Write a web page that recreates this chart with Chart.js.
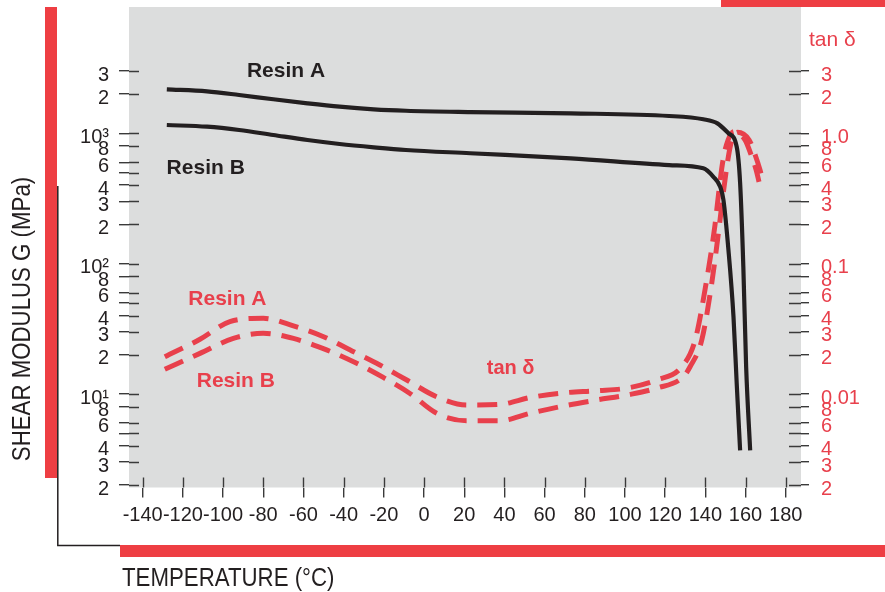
<!DOCTYPE html>
<html>
<head>
<meta charset="utf-8">
<script src="https://cdn.jsdelivr.net/npm/chart.js@4.4.0/dist/chart.umd.min.js"></script>
<style>
html,body{margin:0;padding:0;background:#fff;}
#wrap{width:885px;height:592px;position:relative;}
</style>
</head>
<body>
<div id="wrap"><canvas id="c" width="885" height="592"></canvas></div>
<script>
// ---------- DATA ----------
// Shear modulus G (MPa) vs temperature (°C)
const tempA    = [-128, -108, -92, -75, -58, -42, -25, -9, 23, 73, 122, 139, 146, 151.5, 155.6, 157.3, 158.9, 160.3, 162.3];
const modulusA = [2176, 2099, 1968, 1824, 1698, 1600, 1528, 1490, 1456, 1423, 1358, 1281, 1193, 1000, 789, 416, 95, 16.2, 3.7];
const tempB    = [-128, -108, -92, -75, -58, -42, -25, -9, 23, 73, 122, 139, 144, 147.4, 149, 151.5, 154, 155.6, 157.3];
const modulusB = [1158, 1124, 1060, 970, 888, 828, 781, 745, 703, 643, 571, 539, 464, 389, 308, 127, 39.2, 12.1, 3.7];

// tan delta vs temperature (°C)
const tanTempA  = [-129, -111.5, -96.6, -80, -65, -50, -35, -22, -8.6, 6.3, 21.3, 37.8, 52.8, 69.3, 86, 101, 115.8, 128.3, 134.9, 140.4, 144.8, 146.8, 148.8, 151.3, 154.2, 159.8, 162.8, 165.3, 166.7];
const tanDeltaA = [0.0193, 0.0263, 0.0359, 0.0381, 0.0333, 0.0275, 0.0211, 0.0167, 0.0128, 0.00953, 0.00823, 0.00833, 0.0094, 0.0102, 0.0106, 0.0111, 0.0128, 0.0162, 0.0259, 0.0711, 0.198, 0.367, 0.624, 0.888, 1.03, 0.887, 0.682, 0.523, 0.424];
const tanTempB  = [-129, -111.5, -94.9, -80, -65, -48.5, -33.5, -20.3, -7, 6.3, 21.3, 37.8, 52.8, 69.3, 86, 101, 115.8, 129.1, 132.4, 138.2, 143.2, 147, 148.8, 150.8, 152.8, 156, 161.8, 164.8, 167.2, 168.7];
const tanDeltaB = [0.0155, 0.0205, 0.0267, 0.0292, 0.0267, 0.0218, 0.0172, 0.0134, 0.0101, 0.00711, 0.00624, 0.00624, 0.00711, 0.00809, 0.0090, 0.00982, 0.0111, 0.0136, 0.0162, 0.0259, 0.0711, 0.198, 0.336, 0.571, 0.843, 1.02, 0.889, 0.682, 0.523, 0.424];

// Tick values and labels
const xTickValues = [-140, -120, -100, -80, -60, -40, -20, 0, 20, 40, 60, 80, 100, 120, 140, 160, 180];
const xTickLabels = ['-140', '-120', '-100', '-80', '-60', '-40', '-20', '0', '20', '40', '60', '80', '100', '120', '140', '160', '180'];
const leftTickValues = [2, 3, 4, 5, 6, 8, 10, 20, 30, 40, 50, 60, 80, 100, 200, 300, 400, 500, 600, 800, 1000, 2000, 3000];
const leftTickLabels = ['2', '3', '4', '', '6', '8', '10\u00B9', '2', '3', '4', '', '6', '8', '10\u00B2', '2', '3', '4', '', '6', '8', '10\u00B3', '2', '3'];
const rightTickValues = [0.002, 0.003, 0.004, 0.005, 0.006, 0.008, 0.01, 0.02, 0.03, 0.04, 0.05, 0.06, 0.08, 0.1, 0.2, 0.3, 0.4, 0.5, 0.6, 0.8, 1, 2, 3];
const rightTickLabels = ['2', '3', '4', '', '6', '8', '0.01', '2', '3', '4', '', '6', '8', '0.1', '2', '3', '4', '', '6', '8', '1.0', '2', '3'];

// ---------- STYLE ----------
const BLACK = '#231f20';
const TICK = '#3a3a3a';
const RED = '#e8404c';
const BAR_RED = '#ee3e43';
const GRAY = '#dcdddd';
const FONT = "'Liberation Sans', Arial, Helvetica, sans-serif";

const X_MIN = -146.82, X_MAX = 187.6;
const Y_MIN = 1.918, Y_MAX = 9311;

const toPoints = (xs, ys) => xs.map((x, i) => ({x: x, y: ys[i]}));

const annotations = [
  {text: 'Resin A', x: -68.7, y: 3006, color: BLACK, align: 'center', font: 'bold 21px ' + FONT},
  {text: 'Resin B', x: -128.1, y: 542, color: BLACK, align: 'left', font: 'bold 21px ' + FONT},
  {text: 'Resin A', x: -117.3, y: 53.3, color: RED, align: 'left', font: 'bold 21px ' + FONT},
  {text: 'Resin B', x: -113.1, y: 12.65, color: RED, align: 'left', font: 'bold 21px ' + FONT},
  {text: 'tan \u03B4', x: 31.2, y: 15.7, color: RED, align: 'left', font: 'bold 20px ' + FONT}
];

const decorPlugin = {
  id: 'decor',
  beforeDraw(chart) {
    const ctx = chart.ctx, a = chart.chartArea;
    ctx.save();
    ctx.fillStyle = '#ffffff';
    ctx.fillRect(0, 0, chart.width, chart.height);
    ctx.fillStyle = GRAY;
    ctx.fillRect(a.left, a.top, a.right - a.left, a.bottom - a.top);
    // red frame bars
    ctx.fillStyle = BAR_RED;
    ctx.fillRect(45, 7, 12, 471);
    ctx.fillRect(721, 0, chart.width - 721, 7);
    ctx.fillRect(120, 545, chart.width - 120, 12);
    // black frame lines
    ctx.strokeStyle = BLACK;
    ctx.lineWidth = 1.5;
    ctx.beginPath();
    ctx.moveTo(57.8, 186);
    ctx.lineTo(57.8, 545.5);
    ctx.lineTo(120, 545.5);
    ctx.stroke();
    ctx.restore();
  },
  beforeDatasetsDraw(chart) {
    // inner halves of tick marks (the library draws the outer halves)
    const ctx = chart.ctx, a = chart.chartArea;
    ctx.save();
    ctx.strokeStyle = TICK;
    ctx.lineWidth = 1.4;
    ctx.beginPath();
    chart.scales.y.ticks.forEach(t => {
      const p = Math.round(chart.scales.y.getPixelForValue(t.value)) + 0.5;
      ctx.moveTo(a.left, p); ctx.lineTo(a.left + 10, p);
    });
    chart.scales.y2.ticks.forEach(t => {
      const p = Math.round(chart.scales.y2.getPixelForValue(t.value)) + 0.5;
      ctx.moveTo(a.right - 12, p); ctx.lineTo(a.right, p);
    });
    chart.scales.x.ticks.forEach(t => {
      const p = Math.round(chart.scales.x.getPixelForValue(t.value)) + 0.5;
      ctx.moveTo(p, a.bottom - 10); ctx.lineTo(p, a.bottom);
    });
    ctx.stroke();
    ctx.restore();
  },
  afterDraw(chart) {
    const ctx = chart.ctx, a = chart.chartArea;
    const xs = chart.scales.x, ys = chart.scales.y;
    ctx.save();
    ctx.textBaseline = 'middle';
    annotations.forEach(n => {
      ctx.font = n.font;
      ctx.fillStyle = n.color;
      ctx.textAlign = n.align;
      ctx.fillText(n.text, xs.getPixelForValue(n.x), ys.getPixelForValue(n.y));
    });
    // right axis title
    ctx.font = '21px ' + FONT;
    ctx.fillStyle = RED;
    ctx.textAlign = 'left';
    ctx.fillText('tan \u03B4', a.right + 8, 40);
    // x axis title
    ctx.save();
    ctx.fillStyle = BLACK;
    ctx.translate(122, 579);
    ctx.scale(0.89, 1);
    ctx.font = '25px ' + FONT;
    ctx.textAlign = 'left';
    ctx.fillText('TEMPERATURE (\u00B0C)', 0, 0);
    ctx.restore();
    // y axis title
    ctx.save();
    ctx.fillStyle = BLACK;
    ctx.translate(23, 319);
    ctx.rotate(-Math.PI / 2);
    ctx.scale(0.89, 1);
    ctx.font = '25px ' + FONT;
    ctx.textAlign = 'center';
    ctx.fillText('SHEAR MODULUS G (MPa)', 0, 0);
    ctx.restore();
    ctx.restore();
  }
};

const commonGrid = (len) => ({display: true, drawOnChartArea: false, drawTicks: true, tickLength: len, color: TICK, lineWidth: 1.4});
const noPad = s => { s.paddingTop = 0; s.paddingBottom = 0; s.paddingLeft = 0; s.paddingRight = 0; };

new Chart(document.getElementById('c').getContext('2d'), {
  type: 'line',
  data: {
    datasets: [
      {label: 'Resin A G', data: toPoints(tempA, modulusA), yAxisID: 'y', borderColor: BLACK, borderWidth: 4.2, pointRadius: 0, cubicInterpolationMode: 'monotone', fill: false},
      {label: 'Resin B G', data: toPoints(tempB, modulusB), yAxisID: 'y', borderColor: BLACK, borderWidth: 4.2, pointRadius: 0, cubicInterpolationMode: 'monotone', fill: false},
      {label: 'Resin A tan δ', data: toPoints(tanTempA, tanDeltaA), yAxisID: 'y2', borderColor: RED, borderWidth: 5, borderDash: [20, 11], borderCapStyle: 'butt', pointRadius: 0, cubicInterpolationMode: 'monotone', fill: false},
      {label: 'Resin B tan δ', data: toPoints(tanTempB, tanDeltaB), yAxisID: 'y2', borderColor: RED, borderWidth: 5, borderDash: [20, 11], borderCapStyle: 'butt', pointRadius: 0, cubicInterpolationMode: 'monotone', fill: false}
    ]
  },
  options: {
    responsive: false,
    animation: false,
    devicePixelRatio: 1,
    layout: {padding: {top: 7, left: 0, right: 0, bottom: 0}},
    plugins: {legend: {display: false}, tooltip: {enabled: false}},
    scales: {
      x: {
        type: 'linear', min: X_MIN, max: X_MAX, bounds: 'data',
        grid: commonGrid(10), border: {display: false},
        ticks: {autoSkip: false, maxRotation: 0, minRotation: 0, padding: 6, color: BLACK, font: {family: FONT, size: 20},
                callback: (v, i) => xTickLabels[i]},
        afterBuildTicks: s => { s.ticks = xTickValues.map(v => ({value: v})); },
        afterFit: s => { s.height = 104.5; noPad(s); }
      },
      y: {
        type: 'logarithmic', position: 'left', min: Y_MIN, max: Y_MAX, bounds: 'data',
        grid: commonGrid(10), border: {display: false},
        ticks: {autoSkip: false, padding: 10, labelOffset: 4, color: BLACK, font: {family: FONT, size: 20},
                callback: (v, i) => leftTickLabels[i]},
        afterBuildTicks: s => { s.ticks = leftTickValues.map(v => ({value: v})); },
        afterFit: s => { s.width = 129; noPad(s); }
      },
      y2: {
        type: 'logarithmic', position: 'right', min: Y_MIN / 1000, max: Y_MAX / 1000, bounds: 'data',
        grid: commonGrid(8), border: {display: false},
        ticks: {autoSkip: false, padding: 12, labelOffset: 4, color: RED, font: {family: FONT, size: 20},
                callback: (v, i) => rightTickLabels[i]},
        afterBuildTicks: s => { s.ticks = rightTickValues.map(v => ({value: v})); },
        afterFit: s => { s.width = 84; noPad(s); }
      }
    }
  },
  plugins: [decorPlugin]
});
</script>
</body>
</html>
